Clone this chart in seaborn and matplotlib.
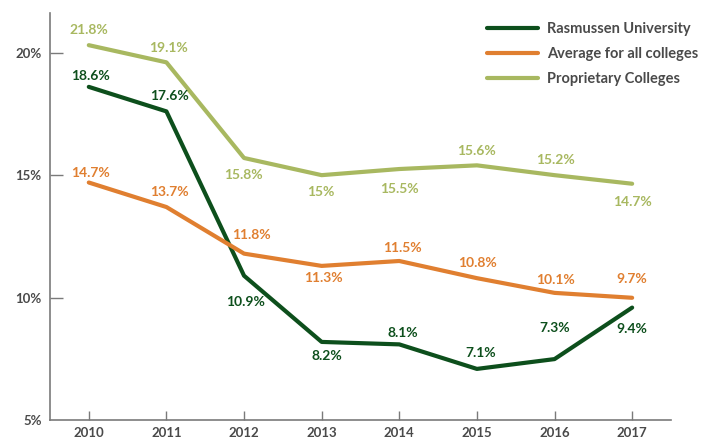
import matplotlib
matplotlib.use("Agg")
import matplotlib.pyplot as plt
import seaborn as sns
import pandas as pd
from matplotlib.lines import Line2D

years = [2010, 2011, 2012, 2013, 2014, 2015, 2016, 2017]
rasmussen = [18.6, 17.6, 10.9, 8.2, 8.1, 7.1, 7.5, 9.6]
average = [14.7, 13.7, 11.8, 11.3, 11.5, 10.8, 10.2, 10.0]
proprietary = [20.3, 19.6, 15.7, 15.0, 15.25, 15.4, 15.0, 14.65]
rasmussen_labels = ["18.6%", "17.6%", "10.9%", "8.2%", "8.1%", "7.1%", "7.3%", "9.4%"]
average_labels = ["14.7%", "13.7%", "11.8%", "11.3%", "11.5%", "10.8%", "10.1%", "9.7%"]
proprietary_labels = ["21.8%", "19.1%", "15.8%", "15%", "15.5%", "15.6%", "15.2%", "14.7%"]
series_names = ["Rasmussen University", "Average for all colleges", "Proprietary Colleges"]
y_ticks = [5, 10, 15, 20]
y_tick_labels = ["5%", "10%", "15%", "20%"]

colors = ["#0d4f1c", "#e07f30", "#a8b860"]

# label offsets in pixels (dx, dy); layout only
ras_off = [(2, 11), (3, 15), (1, -26), (5, -14), (4, 11), (4, 16), (0, 31), (0, -21)]
avg_off = [(2, 10), (3, 15), (7, 19), (2, -12), (3, 13), (1, 15), (1, 13), (0, 19)]
pro_off = [(0, 15), (2, 14), (-1, -17), (-1, -17), (0, -20), (0, 14), (1, 15), (0, -18)]

df = pd.DataFrame({
    "year": years * 3,
    "value": rasmussen + average + proprietary,
    "series": [series_names[0]] * 8 + [series_names[1]] * 8 + [series_names[2]] * 8,
})

sns.set_theme(style="white")
plt.rcParams["font.family"] = ["Lato", "DejaVu Sans"]

fig, ax = plt.subplots(figsize=(7.1, 4.43), dpi=100)
fig.subplots_adjust(left=0.0704, right=0.945, bottom=0.051, top=0.97)

sns.lineplot(data=df, x="year", y="value", hue="series", hue_order=series_names,
             palette=colors, linewidth=3, ax=ax, legend=False)

for vals, labs, offs, col in [(rasmussen, rasmussen_labels, ras_off, colors[0]),
                              (average, average_labels, avg_off, colors[1]),
                              (proprietary, proprietary_labels, pro_off, colors[2])]:
    for x, v, lab, (dx, dy) in zip(years, vals, labs, offs):
        ax.annotate(lab, (x, v), xytext=(dx, dy), textcoords="offset pixels",
                    ha="center", va="center", color=col, fontsize=10,
                    fontweight="bold")

ax.set_xlim(2009.5, 2017.5)
ax.set_ylim(5, 21.6)
ax.set_xticks(years)
ax.set_xticklabels([str(y) for y in years])
ax.set_yticks(y_ticks)
ax.set_yticklabels(y_tick_labels)
ax.set_xlabel("")
ax.set_ylabel("")

for side in ["top", "right"]:
    ax.spines[side].set_visible(False)
for side in ["left", "bottom"]:
    ax.spines[side].set_color("#7a7a7a")
    ax.spines[side].set_linewidth(1.2)

ax.tick_params(axis="x", direction="in", length=6.5, width=1, color="#7a7a7a",
               labelsize=9.5, labelcolor="#4a4a4a", pad=5, bottom=True)
ax.tick_params(axis="y", direction="in", length=9, width=1, color="#7a7a7a",
               labelsize=9.5, labelcolor="#4a4a4a", pad=6, left=True)
for lab in ax.get_xticklabels() + ax.get_yticklabels():
    lab.set_fontweight("bold")
ax.yaxis.get_major_ticks()[0].tick1line.set_visible(False)

handles = [Line2D([0], [0], color=c, linewidth=3) for c in colors]
leg = fig.legend(handles, series_names, loc="upper left",
                 bbox_to_anchor=(487 / 710, 1 - 22 / 443), bbox_transform=fig.transFigure,
                 frameon=False, borderpad=0, borderaxespad=0,
                 handlelength=3.5, handletextpad=0.6, labelspacing=0.75,
                 prop={"weight": "bold", "size": 10.5})
for t in leg.get_texts():
    t.set_color("#4a4a4a")

fig.savefig("out.png", dpi=100)
